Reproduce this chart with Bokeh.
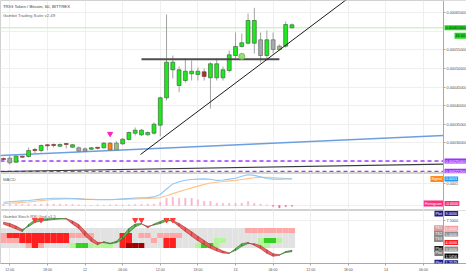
from bokeh.plotting import figure
from bokeh.layouts import column
from bokeh.models import Range1d, FixedTicker, PrintfTickFormatter, Label, ColumnDataSource, BoxAnnotation
from bokeh.embed import file_html
from bokeh.resources import INLINE

FONT = "Liberation Sans"
SAT = 1e-8      # candle prices below are in satoshi
M_UNIT = 1e-4   # MACD values below are in units of 1e-4 BTC

# ---------------- data ----------------
hours = list(range(-1, 46))   # hour index, 0 = day 11 12:00
opens = [25400, 24510, 24680, 26300, 26220, 27840, 27840, 29380, 29460, 29000, 29730, 28730, 28570, 27650,
         28190, 28700, 28570, 28030, 29810, 29650, 30810, 32510, 32080, 32080, 32510, 34680, 42080, 49650,
         45410, 46760, 48570, 48380, 49110, 47490, 47490, 47490, 49460, 53510, 55950, 56840, 56840, 57760,
         53510, 57760, 55140, 56030, 61810]
highs = [25950, 26490, 26760, 26350, 28650, 28570, 29460, 29600, 29730, 29730, 29870, 29600, 28920, 28650,
         28780, 28780, 30140, 30140, 30410, 31220, 32970, 34050, 33650, 32970, 35410, 42430, 64600, 53510,
         50540, 52700, 52160, 50270, 50000, 51700, 52700, 50540, 54860, 59730, 59460, 64860, 66400, 59730,
         60270, 59730, 56490, 62700, 62160]
lows = [24870, 24050, 24600, 25810, 25950, 26950, 27300, 27840, 28650, 28780, 28380, 28650, 27430, 27570,
        27970, 28110, 28380, 27840, 27700, 29320, 30540, 31890, 31760, 31890, 32160, 31700, 41350, 47300,
        43600, 46220, 46760, 46760, 46760, 39190, 46760, 46760, 48920, 52700, 55680, 56490, 54050, 51620,
        52700, 54050, 54860, 55680, 60810]
closes = [25670, 25760, 26300, 26030, 27840, 28110, 29190, 29110, 29190, 29460, 29460, 29380, 27650, 28300,
          28570, 28430, 29810, 29810, 28030, 30890, 32700, 33320, 33320, 32700, 34950, 42080, 51700, 51700,
          49650, 49270, 49270, 49270, 47840, 51270, 51270, 49650, 53700, 55950, 56950, 62970, 62970, 53510,
          57760, 55140, 56030, 61890, 61000]
kinds = ["doji", "gray", "up", "doji", "up", "doji", "up", "doji", "doji", "up", "doji", "up", "gray", "gray",
         "up", "doji", "up", "alert", "weak", "up", "up", "up", "up", "up", "up", "up", "up", "up",
         "up", "up", "up", "up", "doji", "up", "up", "up", "up", "up", "up", "up", "up", "gray",
         "up", "gray", "weak", "up", "up"]

macd = [0.15, 0.17, 0.19, 0.21, 0.23, 0.26, 0.29, 0.31, 0.33, 0.33, 0.33, 0.32, 0.30, 0.28, 0.27, 0.26,
        0.26, 0.26, 0.28, 0.30, 0.32, 0.34, 0.35, 0.36, 0.39, 0.50, 0.75, 0.98, 1.08, 1.15, 1.18, 1.20,
        1.21, 1.19, 1.14, 1.16, 1.20, 1.24, 1.33, 1.40, 1.37, 1.30, 1.23, 1.20, 1.20, 1.21, 1.21]
signal = [0.08, 0.10, 0.12, 0.14, 0.16, 0.19, 0.22, 0.25, 0.27, 0.29, 0.30, 0.30, 0.30, 0.29, 0.28, 0.27,
          0.27, 0.27, 0.27, 0.28, 0.29, 0.30, 0.31, 0.32, 0.33, 0.36, 0.44, 0.54, 0.63, 0.72, 0.80, 0.88,
          0.96, 1.02, 1.06, 1.09, 1.12, 1.14, 1.18, 1.22, 1.26, 1.28, 1.28, 1.27, 1.25, 1.23, 1.22]
hist = [0.06, 0.06, 0.06, 0.05, 0.06, 0.06, 0.06, 0.08, 0.06, 0.06, 0.05, 0.05, 0.03, 0.01, 0.01, 0.03,
        0.02, 0.03, 0.03, 0.02, 0.03, 0.05, 0.05, 0.06, 0.06, 0.15, 0.33, 0.38, 0.33, 0.33, 0.33, 0.26,
        0.18, 0.18, 0.10, 0.10, 0.10, 0.10, 0.10, 0.18, 0.10, 0.06, 0.03, -0.03, -0.10, -0.05, -0.03]

stoch_k = [6.76, 6.30, 5.80, 5.30, 6.70, 7.61, 7.80, 7.85, 7.90, 7.89, 7.79, 6.80, 5.90, 4.45, 3.30, 2.65,
           3.26, 2.95, 3.35, 4.40, 5.90, 6.80, 6.89, 6.05, 6.80, 7.30, 7.80, 7.30, 6.30, 5.30, 4.35, 3.45,
           2.70, 1.95, 1.40, 1.00, 0.91, 1.90, 2.85, 3.10, 2.55, 1.86, 0.95, 0.35, 0.55, 1.30, 1.5456]
stoch_d = [7.16, 6.90, 6.40, 5.70, 6.30, 7.11, 7.40, 7.55, 7.70, 7.79, 7.89, 7.40, 6.70, 5.35, 4.10, 3.15,
           3.06, 2.85, 3.05, 3.80, 5.10, 6.20, 6.79, 6.35, 6.60, 6.90, 7.40, 7.50, 6.90, 6.10, 5.25, 4.35,
           3.50, 2.65, 2.00, 1.40, 1.01, 1.50, 2.35, 2.90, 2.85, 2.46, 1.65, 0.85, 0.65, 1.10, 1.2579]
stoch_sell_hours = [4, 5, 20, 21, 25, 26]
stoch_sell_level = 7.6

# grid rows of the Stoch RSI grid (one char per hour), levels 5.5 / 4.5 / 3.5 / 2.5
grid_levels = [5.5, 4.5, 3.5, 2.5]
grid_row1 = "ggggggggggggggggggggggggggggggggggggggg" + "pppppppp"
grid_row2 = "p" + "rrrrrrrrrr" + "pppp" + "gggg" + "rr" + "g" + "pp" + "g" + "pppp" + "gggggggggggggggggg"
grid_row3 = "p" + "pp" + "rrrrrrrr" + "gggggggg" + "rr" + "ggg" + "p" + "g" + "rr" + "gggggg" + "ll" + "ggggg" + "l" + "GG" + "l" + "gg"
grid_row4 = "gggg" + "p" + "r" + "p" + "gggg" + "l" + "GG" + "llll" + "g" + "r" + "ddd" + "ggg" + "rr" + "ggg" + "l" + "GG" + "l" + "gggggg" + "ll" + "gggg"

tick_hours = [0, 6, 12, 18, 24, 30, 36, 42, 48, 54, 60, 66]
tick_labels = ["12:00", "18:00", "12", "06:00", "12:00", "18:00", "13", "06:00", "12:00", "18:00", "14", "06:00"]
price_ticks = [0.0003, 0.00035, 0.0004, 0.00045, 0.0005, 0.00055, 0.00065]
price_grid = [0.00025, 0.0003, 0.00035, 0.0004, 0.00045, 0.0005, 0.00055, 0.0006, 0.00065]
current_price = 0.00061
countdown = "43:40"
level_lines = [0.00025, 0.000222]
trend_up_h = [20.85, 54.0]
trend_up_p = [0.0002676, 0.0006902]
base_line_h = [-1.5, 69.17]
base_line_p = [0.0002649, 0.0003189]
floor_line_h = [-1.5, 69.17]
floor_line_p = [0.0002216, 0.0002414]
resist_h = [21, 43]
resist_p = [0.000525, 0.000525]
alert_h = [16]
alert_p = [0.0003235]
dot_h = [37]
dot_p = [0.000533]

# ---------------- layout / styles ----------------
X0 = -1.483          # left edge of the chart (hours)
AX_H = 69.17         # where the price scale starts (hours)
X1 = 72.84           # right edge of the window (hours)
FILL = {"up": "#1fe81f", "gray": "#a3abab", "doji": "#8e3a3a", "alert": "#ff8416", "weak": "#93c66c"}
EDGE = {"up": "#3b6e3b", "gray": "#6c6c6c", "doji": "#8e3a3a", "alert": "#8a4a10", "weak": "#6c6c6c"}
CELL = {"g": "#e2e2e2", "p": "#ffa6a6", "r": "#ff1f1f", "d": "#a30000", "l": "#b4f59c", "G": "#34cf22"}
GRIDC = "#efefef"
AXC = "#a9a9a9"

x_rng = Range1d(X0, X1)


def base_fig(fh, yr, xloc=None, mb_bottom=0):
    p = figure(frame_width=466, frame_height=fh, x_range=x_rng, y_range=yr,
               output_backend="svg", toolbar_location=None,
               x_axis_location=xloc, y_axis_location="right",
               min_border_left=0, min_border_right=0, min_border_top=0, min_border_bottom=mb_bottom,
               background_fill_color="white", border_fill_color="white",
               outline_line_color="#d2d2d2", outline_line_width=1)
    ax = p.yaxis[0]
    ax.fixed_location = AX_H
    ax.major_label_text_font_size = "3.8px"
    ax.major_label_text_font = FONT
    ax.major_label_text_color = "#4d4d4d"
    ax.axis_line_color = AXC
    ax.major_tick_line_color = AXC
    ax.major_tick_out = 2
    ax.major_tick_in = 0
    ax.minor_tick_out = 0
    ax.minor_tick_in = 0
    ax.major_label_standoff = 1
    p.xgrid.ticker = FixedTicker(ticks=tick_hours)
    p.grid.grid_line_color = GRIDC
    p.add_layout(BoxAnnotation(left=AX_H, right=X1, fill_color="white", fill_alpha=1,
                               line_color=None, level="underlay"))
    return p


def tag(p, text, x, y, bg, color="white", align="left", yu="screen", yoff=0):
    p.add_layout(Label(x=x, y=y, x_units="screen", y_units=yu, y_offset=yoff, text=text,
                       text_font=FONT, text_font_size="3.8px", text_color=color,
                       text_align=align, text_baseline="middle",
                       background_fill_color=bg, padding=1))


def title(p, text, y, color):
    p.add_layout(Label(x=2.5, y=y, x_units="screen", y_units="screen", text=text,
                       text_font=FONT, text_font_size="4.3px", text_color=color,
                       text_baseline="middle"))


# ---------------- price pane ----------------
H1 = 173
p1 = base_fig(H1, Range1d(0.00021622, 0.00068378))
p1.yaxis[0].ticker = FixedTicker(ticks=price_ticks)
p1.yaxis[0].formatter = PrintfTickFormatter(format="%.8f")
p1.ygrid.ticker = FixedTicker(ticks=price_grid)

p1.line([X0, AX_H], [current_price, current_price], line_color="#b7efac", line_width=1)
for lv in level_lines:
    p1.line([X0, AX_H], [lv, lv], line_color="#a33cf5", line_width=1.3, line_dash="4 3")
p1.line(base_line_h, base_line_p, line_color="#6d9fe0", line_width=1.3)
p1.line(floor_line_h, floor_line_p, line_color="#3a3a3a", line_width=1.2)

csrc = ColumnDataSource(dict(
    h=hours,
    hi=[v * SAT for v in highs],
    lo=[v * SAT for v in lows],
    top=[max(o, c) * SAT for o, c in zip(opens, closes)],
    bot=[min(o, c) * SAT for o, c in zip(opens, closes)],
    fill=[FILL[k] for k in kinds],
    edge=[EDGE[k] for k in kinds],
))
p1.segment(x0="h", y0="lo", x1="h", y1="hi", line_color="#a2a2a2", line_width=1, source=csrc)
p1.vbar(x="h", top="top", bottom="bot", width=0.62, fill_color="fill", line_color="edge",
        line_width=0.7, source=csrc)

p1.line(resist_h, resist_p, line_color="#4e4e4e", line_width=2)
p1.line(trend_up_h, trend_up_p, line_color="#1a1a1a", line_width=1)
p1.scatter(alert_h, alert_p, marker="inverted_triangle", size=5, fill_color="#ff1fc0", line_color="#ff1fc0")
p1.scatter(dot_h, dot_p, marker="circle", size=6, fill_color="#8fd86a", line_color="#7cc45a", fill_alpha=0.9)

title(p1, "TRIG Token / Bitcoin, 60, BITTREX", H1 - 6.3, "#3b3b3b")
title(p1, "Gambit Trading Suite v2.49", H1 - 15, "#666666")
tag(p1, "%.8f" % current_price, 444, current_price, "#18e018", color="#1a1a1a", yu="data")
tag(p1, countdown, 465.5, current_price, "#18e018", color="#1a1a1a", align="right", yu="data", yoff=-8)
for lv in level_lines:
    tag(p1, "%.8f" % lv, 444, lv, "#9b30ff", yu="data")

# ---------------- MACD pane ----------------
H2 = 37
p2 = base_fig(H2, Range1d(-0.2273 * M_UNIT, 1.4545 * M_UNIT))
p2.yaxis[0].ticker = FixedTicker(ticks=[1 * M_UNIT])
p2.yaxis[0].formatter = PrintfTickFormatter(format="%.4f")
p2.ygrid.ticker = FixedTicker(ticks=[0, 1 * M_UNIT])

hsrc = ColumnDataSource(dict(
    h=hours,
    v=[v * M_UNIT for v in hist],
    c=["#f7b6cd" if v >= 0 else "#f0649a" for v in hist],
))
p2.vbar(x="h", top="v", bottom=0, width=0.22, fill_color="c", line_color="c", line_width=0.5, source=hsrc)
p2.line(hours, [v * M_UNIT for v in signal], line_color="#ffc488", line_width=1.1)
p2.line(hours, [v * M_UNIT for v in macd], line_color="#8ec7f5", line_width=1.1)

title(p2, "MACD", H2 - 6, "#666666")
tag(p2, "Signal", 442.5, macd[-1] * M_UNIT, "#ff8a1c", align="right", yu="data")
tag(p2, "%.4f" % (macd[-1] * M_UNIT), 444, macd[-1] * M_UNIT, "#2196f3", yu="data")
tag(p2, "Histogram", 442.5, 7, "#ff2d7a", align="right")
tag(p2, "-0.0000", 444, 7, "#ff2d7a")

# ---------------- Stoch RSI grid pane ----------------
H3 = 53
p3 = base_fig(H3, Range1d(-1.1, 9.5), xloc="below", mb_bottom=12)
p3.yaxis[0].ticker = FixedTicker(ticks=[7.5])
p3.yaxis[0].formatter = PrintfTickFormatter(format="%.4f")
p3.ygrid.ticker = FixedTicker(ticks=[7.5])

cx, cy, cc = [], [], []
for lvl, row in zip(grid_levels, [grid_row1, grid_row2, grid_row3, grid_row4]):
    for h, ch in zip(hours, row):
        cx.append(h)
        cy.append(lvl)
        cc.append(CELL[ch])
p3.rect(x=cx, y=cy, width=1, height=1, fill_color=cc, line_color=None)

xs, ys, fc, lc = [], [], [], []
for i in range(len(hours) - 1):
    xs.append([hours[i], hours[i + 1], hours[i + 1], hours[i]])
    ys.append([stoch_k[i], stoch_k[i + 1], stoch_d[i + 1], stoch_d[i]])
    up = (stoch_k[i] + stoch_k[i + 1]) >= (stoch_d[i] + stoch_d[i + 1])
    fc.append("#5cb84e" if up else "#f05a5a")
    lc.append("#2f6a2a" if up else "#a83232")
p3.patches(xs, ys, fill_color=fc, line_color=lc, line_width=0.6, fill_alpha=0.95)
p3.scatter(stoch_sell_hours, [stoch_sell_level] * len(stoch_sell_hours), marker="inverted_triangle",
           size=5, fill_color="#ff3c3c", line_color="#ff3c3c")

xa = p3.xaxis[0]
xa.ticker = FixedTicker(ticks=tick_hours)
xa.major_label_overrides = {h: lab for h, lab in zip(tick_hours, tick_labels)}
xa.major_label_text_font_size = "3.6px"
xa.major_label_text_font = FONT
xa.major_label_text_color = "#555555"
xa.axis_line_color = AXC
xa.major_tick_line_color = AXC
xa.major_tick_out = 2
xa.major_tick_in = 0
xa.minor_tick_out = 0
xa.minor_tick_in = 0
xa.major_label_standoff = 2

title(p3, "Gambit Stoch RSI Grid v1.5", H3 - 6, "#666666")
tag(p3, "Plot", 442.5, 50, "#1c1c8c", align="right")
tag(p3, "9.0000", 444, 50, "#1c1c8c")
tag(p3, "TS1", 442.5, 35.3, "#d89c9c", align="right")
tag(p3, "6.0000", 444, 35.3, "#f5a0a0")
tag(p3, "TS2", 442.5, 29.5, "#8c8c8c", align="right")
tag(p3, "5.0000", 444, 29.5, "#8c8c8c")
tag(p3, "TS3", 442.5, 24.5, "#8c8c8c", align="right")
tag(p3, "4.0000", 444, 21, "#ff1a1a")
tag(p3, "Plot", 442.5, 14.5, "#1e1e1e", align="right")
tag(p3, "3.0000", 444, 14.5, "#8c8c8c")
tag(p3, "Plot", 442.5, 10.5, "#7a7a7a", align="right")
tag(p3, "%.4f" % stoch_k[-1], 444, 7.5, "#111111")
tag(p3, "Plot", 442.5, 0.7, "#1c1c8c", align="right")
tag(p3, "%.4f" % stoch_d[-1], 444, 0.7, "#1c1c8c")

layout = column(p1, p2, p3, spacing=0)
open("out.html", "w").write(file_html(layout, INLINE))
